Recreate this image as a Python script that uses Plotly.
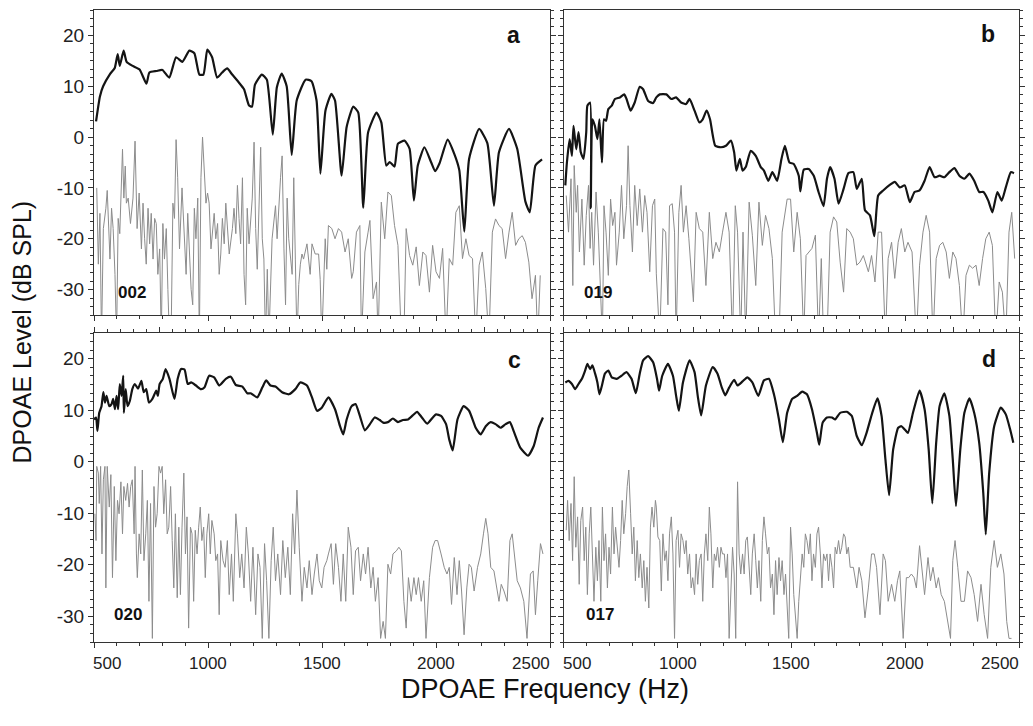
import plotly.graph_objects as go

# ---------------- data ----------------
freq_ticks = [500, 1000, 1500, 2000, 2500]
level_ticks = [-30, -20, -10, 0, 10, 20]
level_labels = ["-30", "-20", "-10", "0", "10", "20"]
panel_letters = ["a", "b", "c", "d"]
subject_ids = ["002", "019", "020", "017"]

# panel a (subject 002): DPOAE level and noise floor, (Hz, dB SPL)
a_dpoae = [(509,3.1),(526,8),(540,10),(570,12.4),(591,13.6),(604,16.3),(613,14),(630,17),(643,14.8),(670,14),
           (700,13.3),(730,10.5),(743,12.7),(774,13),(800,13.2),(830,11.7),(860,15.7),(888,14.8),(918,17),(940,16.5),
           (962,12.3),(980,12.3),(997,17.2),(1018,15.7),(1040,11.7),(1062,12.7),(1084,13.5),(1106,12.3),(1136,10.7),(1158,9.4),
           (1180,6.2),(1193,6),(1206,10.3),(1236,12.3),(1258,11.3),(1284,0.5),(1302,9.8),(1323,12.5),(1345,10),(1367,-3.5),
           (1389,7.2),(1428,11.3),(1454,11),(1476,7.2),(1493,-7.2),(1515,5.2),(1541,8.5),(1557,7.2),(1586,-7.6),(1608,2),
           (1637,6),(1659,4.8),(1681,-13.9),(1702,0.9),(1739,4.8),(1760,2.9),(1782,-5.6),(1797,-4.9),(1818,-5.8),(1833,-1.3),
           (1862,-0.7),(1884,-2.3),(1903,-12.5),(1920,-5.6),(1949,-2.0),(1978,-4.9),(1996,-6.7),(2015,-5.2),(2051,-0.5),(2080,-3.3),
           (2102,-6.5),(2124,-18.6),(2145,-4.3),(2189,1.6),(2225,-1.2),(2254,-13.5),(2276,-3),(2320,1.6),(2356,-2.3),(2392,-12.7),
           (2411,-14.8),(2436,-5.6),(2465,-4.4)]
a_noise = [(512,-10),(519,-25),(526,-15),(533,-40),(541,-18),(552,-14),(558,-10.5),(570,-24),(577,-14),(584,-18),
           (592,-27),(599,-40),(606,-16),(613,-19),(625,-2.4),(631,-12),(637,-5.7),(642,-13),(650,-12),(660,-17),
           (671,-12),(680,-0.8),(689,-18),(698,-11),(708,-22),(715,-13),(722,-20),(729,-25),(737,-14),(744,-21),
           (751,-15),(759,-24),(766,-16),(773,-17),(780,-27),(788,-22),(795,-40),(802,-17),(809,-24),(817,-18),
           (824,-30),(831,-40),(838,-40),(846,-13),(853,-16),(860,-0.5),(867,-8),(875,-22),(886,-10),(897,-19),
           (904,-27),(911,-15),(918,-21),(926,-30),(933,-33),(940,-14),(947,-20),(955,-12),(962,-40),(969,-8),
           (976,0),(984,-7),(991,-13),(998,-11),(1005,-13),(1013,-22),(1020,-18),(1027,-15),(1034,-20),(1042,-17),
           (1049,-27),(1056,-23),(1063,-16),(1071,-21),(1078,-13),(1093,-23),(1107,-18),(1114,-14),(1122,-19),(1129,-9.5),
           (1136,-16),(1143,-21),(1151,-8),(1158,-27),(1165,-33),(1172,-14),(1180,-21),(1194,-12),(1202,-1),(1209,-18),
           (1216,-26),(1223,-12),(1231,-2),(1238,-20),(1245,-24),(1252,-40),(1260,-26),(1267,-40),(1274,-28),(1281,-20),
           (1296,-13.5),(1303,-20),(1318,-8),(1325,-3.7),(1333,-22),(1340,-33),(1347,-12),(1354,-20),(1369,-27),(1376,-8),
           (1383,-24),(1390,-40),(1398,-29),(1405,-25),(1412,-23),(1419,-24),(1434,-21),(1448,-27),(1456,-21),(1470,-23),
           (1485,-23),(1492,-28),(1499,-40),(1506,-29),(1514,-20),(1521,-26),(1528,-17.4),(1543,-18),(1557,-20),(1572,-18),
           (1586,-18.7),(1601,-22.6),(1615,-20),(1630,-27.8),(1637,-26.5),(1651,-18.7),(1666,-17.4),(1673,-40),(1688,-22.6),(1702,-18.7),
           (1710,-16.4),(1724,-31.8),(1739,-28.5),(1746,-40),(1760,-12.8),(1775,-20),(1789,-10.8),(1804,-11.5),(1818,-17.4),(1833,-21.3),
           (1848,-40),(1859,-40),(1869,-18),(1884,-23.3),(1898,-25.2),(1913,-21.6),(1927,-29.2),(1942,-22.6),(1956,-23.3),(1971,-30.5),
           (1985,-21.3),(2000,-26.5),(2015,-27.8),(2029,-21.9),(2044,-40),(2058,-23.9),(2073,-25.2),(2087,-14.8),(2102,-13.5),(2116,-23.9),
           (2131,-20),(2145,-23.3),(2160,-23.9),(2174,-40),(2189,-25.2),(2203,-22.6),(2218,-29.8),(2232,-40),(2247,-18.7),(2261,-16.1),
           (2276,-17.4),(2290,-18),(2305,-23.9),(2320,-18.7),(2334,-14.8),(2349,-21.3),(2363,-20),(2378,-19.4),(2392,-20.7),(2407,-24.6),
           (2421,-31.8),(2436,-27.2),(2446,-40),(2457,-27.2)]

# panel b (subject 019)
b_dpoae = [(506,-9.5),(513,-5),(525,-0.4),(535,-3.7),(542,2.2),(554,-2.4),(564,1),(574,-3),(586,-4.3),(598,1),
           (603,6.2),(615,6.8),(618,-14),(625,3.5),(636,2.2),(647,-0.4),(656,3.5),(667,-5),(676,3.5),(685,3.2),
           (695,5.5),(710,6.2),(724,7.5),(746,7.8),(765,8.4),(775,7.5),(793,5.2),(811,6.8),(833,9.9),(848,9.4),
           (870,7.1),(892,6.7),(906,7.8),(921,8.4),(950,8.4),(972,7.5),(993,7.8),(1015,6.8),(1037,6.5),(1052,7.5),
           (1074,5.2),(1095,2.9),(1110,3.5),(1127,5.2),(1142,3.5),(1165,-1.7),(1190,-2.0),(1212,-1.7),(1234,-0.7),(1248,-3),
           (1258,-6.6),(1273,-4.3),(1285,-6.6),(1299,-5.9),(1321,-2.7),(1343,-3.7),(1365,-5.9),(1379,-6.6),(1398,-8.6),(1416,-6.9),
           (1437,-8.6),(1456,-4.3),(1471,-1.7),(1491,-5),(1510,-5.3),(1532,-7.6),(1539,-10.7),(1554,-6.4),(1576,-6.3),(1598,-7.6),
           (1619,-10.8),(1641,-13.6),(1656,-8.2),(1670,-5.9),(1689,-8.2),(1707,-13.1),(1729,-10.2),(1750,-7.1),(1772,-6.9),(1787,-10.2),
           (1809,-8.2),(1823,-14.4),(1845,-15.4),(1864,-19.5),(1881,-11.5),(1903,-10.5),(1932,-9.4),(1954,-8.8),(1976,-9.9),(1998,-9.5),
           (2020,-12.8),(2041,-10.8),(2063,-10.5),(2085,-8.6),(2107,-5.9),(2129,-7.9),(2151,-7.6),(2172,-7.9),(2194,-6.9),(2216,-6.1),
           (2238,-7.6),(2260,-8.2),(2282,-7.2),(2303,-8.6),(2325,-10.8),(2344,-10.8),(2365,-12.5),(2383,-14.8),(2405,-10.8),(2424,-12.5),
           (2442,-9.9),(2464,-6.9),(2478,-7.1)]
b_noise = [(510,-11.5),(520,-18.7),(531,-8.2),(539,-29.2),(545,-5.6),(554,-14.8),(560,-9.5),(568,-22.6),(579,-12.2),(589,-25.2),
           (598,-15.4),(608,-9.5),(615,-21.9),(622,-14.8),(630,-25.2),(641,-10.8),(651,-18.7),(659,-27.8),(669,-40),(676,-13.5),
           (685,-18.7),(695,-27.2),(705,-12.2),(714,-17.4),(724,-14.8),(731,-25.2),(743,-18.7),(753,-9.5),(763,-20),(775,-13.5),
           (782,-1.7),(790,-13.5),(801,-22.6),(811,-9.5),(822,-17.4),(833,-10.2),(845,-18.7),(855,-11.5),(865,-14.8),(877,-26.5),
           (889,-13.5),(899,-12.2),(906,-26.9),(921,-40),(935,-18),(947,-18.7),(957,-33),(964,-13.5),(976,-13.1),(986,-18.7),
           (993,-40),(1005,-14.8),(1015,-9.5),(1025,-18.7),(1037,-13.5),(1049,-20),(1059,-26.5),(1069,-32.4),(1081,-14.8),(1095,-18),
           (1110,-18.7),(1124,-29.2),(1139,-14.8),(1154,-23.9),(1168,-20.7),(1183,-22.6),(1197,-18.7),(1212,-14.8),(1226,-18.7),(1241,-40),
           (1253,-13.5),(1263,-18.7),(1277,-40),(1287,-18.7),(1299,-40),(1314,-12.8),(1328,-19.3),(1343,-29.2),(1357,-12.8),(1372,-21.3),
           (1386,-15.4),(1401,-18),(1416,-23.9),(1430,-40),(1445,-40),(1459,-18.7),(1481,-12.2),(1496,-12.2),(1510,-22.6),(1525,-14.8),
           (1539,-20),(1554,-40),(1564,-23.3),(1576,-22.6),(1590,-21.9),(1605,-19.3),(1619,-40),(1631,-23.9),(1641,-40),(1656,-40),
           (1670,-18.7),(1685,-15.7),(1699,-16.7),(1714,-24.6),(1729,-30.5),(1743,-18),(1758,-18.7),(1772,-20),(1787,-25.2),(1801,-24.6),
           (1816,-23.3),(1838,-26.5),(1852,-23.3),(1867,-28.5),(1881,-18.7),(1896,-18.7),(1913,-40),(1925,-23.9),(1940,-20.7),(1954,-27.8),
           (1969,-20.7),(1983,-18),(1998,-22.6),(2012,-20.7),(2030,-22.6),(2049,-40),(2063,-25.2),(2078,-18.7),(2092,-15.4),(2107,-18.7),
           (2122,-40),(2136,-23.9),(2151,-21.3),(2165,-20.7),(2180,-22.6),(2194,-27.8),(2209,-22.6),(2223,-23.9),(2238,-29.2),(2253,-40),
           (2267,-27.2),(2282,-25.2),(2296,-25.8),(2311,-25.2),(2325,-29.2),(2340,-23.9),(2354,-20),(2369,-18.7),(2383,-21.3),(2398,-40),
           (2413,-28.5),(2427,-30.5),(2442,-40),(2456,-18.7),(2468,-14.8),(2481,-23.9)]

# panel c (subject 020)
c_dpoae = [(500,8.2),(509,8.6),(515,6.0),(523,9.5),(533,10.8),(541,13.5),(548,11.5),(555,12.8),(567,10.8),(577,11.2),
           (584,12.2),(592,10.2),(599,12.8),(606,10.2),(613,15.1),(621,12.8),(628,16.7),(631,9.5),(639,14.1),(647,10.8),
           (657,11.8),(668,14.1),(679,15.1),(693,14.2),(708,15.7),(718,13.5),(729,14.1),(741,11.5),(756,12.2),(773,13.8),
           (780,12.8),(788,15.1),(802,16.1),(814,18.0),(831,16.1),(853,12.2),(867,16.1),(882,18.0),(897,17.9),(911,15.1),
           (926,15.4),(947,14.8),(969,14.1),(984,14.4),(1005,16.7),(1027,16.4),(1049,14.8),(1078,16.1),(1100,16.5),(1122,14.9),
           (1151,14.6),(1172,13.3),(1187,13.3),(1216,12.5),(1238,14.4),(1255,15.8),(1274,14.8),(1296,14.6),(1325,13.5),(1354,13.1),
           (1383,14.1),(1405,15.4),(1434,14.8),(1456,12.5),(1478,9.9),(1499,10.5),(1528,12.5),(1557,10.2),(1579,6.9),(1593,5.3),
           (1608,8.2),(1630,10.8),(1647,11.2),(1666,8.9),(1688,6.1),(1710,7.3),(1731,8.6),(1753,8.1),(1768,7.6),(1789,7.7),
           (1811,8.4),(1833,7.7),(1855,8.1),(1877,8.2),(1898,9.0),(1917,9.7),(1938,8.6),(1961,7.4),(1986,8.6),(2000,9.2),
           (2022,8.9),(2044,7.3),(2058,4.3),(2073,2.2),(2094,8.2),(2121,10.8),(2145,9.9),(2174,6.6),(2196,5.3),(2218,6.9),
           (2240,7.7),(2261,7.3),(2283,6.6),(2305,7.3),(2324,7.7),(2341,5.9),(2370,2.7),(2404,1.2),(2428,3.0),(2450,6.6),
           (2469,8.6)]
c_noise = [(504,-10.1),(509,-15.3),(512,-0.9),(519,-2.2),(523,-8.1),(529,-0.9),(535,-17.9),(541,-3.5),(548,-0.9),(552,-24.5),
           (558,-0.9),(567,-8.8),(574,-2.5),(581,-22.5),(589,-4.8),(596,-19.2),(603,-7.5),(610,-10.1),(618,-3.9),(625,-14),
           (631,-4.8),(639,-7.5),(647,-4.2),(654,-8.8),(661,-4.8),(668,-3.5),(676,-14),(680,-0.9),(686,-17.9),(690,-22.5),
           (698,-14),(705,-17.9),(712,-1.6),(719,-19.2),(727,-14),(734,-7.5),(741,-27.1),(748,-8.1),(756,-34.3),(763,-4.8),
           (770,-12.7),(777,-10.1),(785,-0.9),(792,-2.2),(799,-0.9),(806,-10.1),(814,-3.5),(821,-14),(828,-12.7),(836,-4.8),
           (843,-15.3),(850,-24.5),(857,-10.1),(865,-26.4),(872,-12.7),(879,-25.8),(886,-12.7),(894,-2.2),(901,-17.9),(908,-10.7),
           (915,-32.3),(923,-12.7),(930,-14),(937,-27.1),(944,-13.3),(952,-17.9),(959,-12.7),(966,-8.8),(973,-15.3),(981,-12.7),
           (988,-22.5),(995,-14),(1003,-10.1),(1010,-17.9),(1017,-11.4),(1027,-14),(1034,-19.2),(1042,-17.9),(1049,-29.7),(1056,-15.3),
           (1066,-19.2),(1075,-20.5),(1085,-15.3),(1093,-25.8),(1103,-17.9),(1111,-27.1),(1122,-10.1),(1129,-14),(1139,-22.5),(1148,-17.9),
           (1158,-24.5),(1168,-12.7),(1177,-17.9),(1187,-27.1),(1197,-16.6),(1209,-29.7),(1219,-17.9),(1228,-20.5),(1238,-34.3),(1248,-15.9),
           (1257,-23.1),(1267,-34.3),(1277,-19.2),(1286,-12.7),(1296,-23.1),(1306,-17.9),(1318,-25.8),(1328,-15.3),(1339,-22.5),(1350,-16.6),
           (1361,-25.8),(1371,-10.1),(1380,-17.9),(1390,-5.5),(1400,-16.6),(1412,-27.1),(1422,-20.5),(1434,-24.5),(1444,-19.2),(1456,-25.8),
           (1466,-21.8),(1478,-17.9),(1488,-23.1),(1499,-24.5),(1509,-20.5),(1521,-19.2),(1528,-17.9),(1540,-15.9),(1550,-23.8),(1560,-15.9),
           (1572,-20.5),(1583,-27.1),(1593,-17.9),(1604,-27.1),(1615,-12.7),(1627,-16.6),(1637,-25.8),(1647,-17.3),(1659,-16.6),(1669,-23.1),
           (1681,-17.9),(1691,-21.8),(1702,-16.6),(1714,-24.5),(1724,-20.5),(1734,-27.1),(1746,-22.5),(1757,-34.3),(1768,-31),(1778,-34.3),
           (1789,-19.9),(1801,-21.8),(1811,-17.9),(1826,-17.3),(1837,-16.6),(1848,-17.3),(1859,-27.1),(1869,-32.3),(1879,-22.5),(1891,-27.1),
           (1903,-22.5),(1913,-25.8),(1923,-22.5),(1935,-27.1),(1946,-23.1),(1956,-34.3),(1971,-22.5),(1985,-16.6),(1996,-15.3),(2007,-15.3),
           (2022,-17.9),(2036,-20.5),(2048,-21.8),(2058,-20.5),(2068,-27.7),(2080,-18.6),(2092,-25.8),(2102,-19.2),(2112,-25.1),(2123,-33.6),
           (2135,-24.5),(2145,-19.9),(2155,-20.5),(2167,-25.1),(2182,-20.5),(2196,-17.9),(2208,-14),(2218,-11),(2228,-14),(2240,-20.5),
           (2254,-21.2),(2266,-24.5),(2276,-27.1),(2286,-23.8),(2298,-25.1),(2312,-27.1),(2324,-15.3),(2334,-14),(2344,-17.9),(2356,-23.1),
           (2370,-24.5),(2385,-27.1),(2399,-34.3),(2414,-21.8),(2426,-21.2),(2436,-29.7),(2446,-23.1),(2458,-15.9),(2469,-17.9)]

# panel d (subject 017)
d_dpoae = [(506,15.4),(520,15.7),(535,15.1),(549,14.1),(564,15.1),(579,16.1),(593,17.7),(603,19.0),(615,18.0),(625,18.7),
           (637,17.1),(647,15.4),(656,13.1),(667,14.8),(680,17.1),(695,17.7),(710,16.4),(732,16.1),(753,16.7),(775,17.4),
           (797,16.1),(816,13.3),(833,17.1),(848,19.7),(870,20.5),(892,19.3),(909,16.1),(918,13.8),(932,16.7),(957,19.0),
           (979,16.7),(993,12.8),(1005,9.9),(1023,15.4),(1052,19.7),(1074,17.4),(1088,12.8),(1103,9.0),(1124,14.8),(1154,18.4),
           (1175,17.1),(1194,14.4),(1209,12.9),(1226,14.4),(1248,15.9),(1263,14.8),(1285,15.6),(1306,16.4),(1328,15.4),(1354,12.8),
           (1379,15.8),(1401,16.1),(1423,13.1),(1445,8.2),(1462,3.8),(1481,9.5),(1503,12.2),(1525,12.8),(1547,13.6),(1568,13.1),
           (1590,10.2),(1612,5.6),(1622,3.3),(1637,7.6),(1656,8.6),(1678,8.6),(1692,8.2),(1714,9.5),(1743,9.7),(1765,8.9),
           (1787,5.0),(1809,3.2),(1830,5.6),(1855,9.5),(1878,12.3),(1896,8.9),(1913,0.4),(1929,-6.5),(1947,2.4),(1969,6.6),
           (1983,6.9),(2001,6.1),(2012,5.6),(2034,9.5),(2063,13.8),(2085,10.2),(2103,2.4),(2119,-8.1),(2136,3.7),(2151,10.8),
           (2172,13.3),(2194,8.9),(2209,0.4),(2223,-8.6),(2242,2.4),(2260,9.5),(2282,12.3),(2303,9.5),(2325,3.7),(2343,-6.1),
           (2354,-14.1),(2369,-2.2),(2391,6.9),(2420,10.5),(2442,9.2),(2461,6.3),(2475,3.7)]
d_noise = [(510,-13.3),(516,-7.5),(523,-15.3),(531,-8.1),(538,-19.2),(545,-2.9),(552,-16.6),(560,-10.7),(567,-23.8),(574,-11.4),
           (582,-8.8),(589,-19.2),(596,-12.7),(603,-25.8),(611,-14),(618,-8.8),(625,-17.9),(632,-27.1),(640,-16.6),(647,-23.1),
           (654,-15.3),(662,-27.1),(669,-8.8),(676,-19.2),(683,-14),(691,-24.5),(698,-16.6),(705,-21.8),(713,-8.8),(720,-17.9),
           (727,-12.7),(734,-16.6),(742,-20.5),(749,-15.3),(756,-7.5),(763,-14),(771,-10.1),(778,-4.8),(785,-1.6),(793,-10.1),
           (800,-17.9),(807,-12.7),(814,-23.1),(822,-15.3),(829,-22.5),(836,-17.9),(844,-24.5),(851,-19.2),(858,-27.1),(865,-20.5),
           (873,-28.4),(880,-12.7),(887,-8.8),(895,-12.7),(902,-7.5),(906,-8.8),(913,-14.6),(921,-15.3),(928,-25.1),(935,-14),
           (943,-19.2),(950,-17.3),(957,-23.1),(964,-14),(972,-10.7),(979,-17.9),(986,-34.3),(993,-15.3),(1001,-13.3),(1008,-20.5),
           (1015,-14),(1023,-15.3),(1030,-17.9),(1037,-15.3),(1044,-21.8),(1052,-17.9),(1059,-24.5),(1066,-22.5),(1074,-25.8),(1081,-17.9),
           (1088,-23.8),(1095,-19.2),(1103,-17.9),(1110,-27.1),(1117,-17.9),(1124,-14),(1132,-19.2),(1139,-8.8),(1146,-14),(1154,-24.5),
           (1161,-17.9),(1168,-19.2),(1175,-16.6),(1183,-20.5),(1190,-16.6),(1197,-17.9),(1205,-17.9),(1212,-22.5),(1219,-17.9),(1226,-34.3),
           (1234,-25.8),(1241,-16.6),(1248,-21.8),(1255,-34.3),(1263,-3.9),(1270,-17.9),(1277,-21.8),(1285,-17.9),(1292,-21.8),(1299,-15.3),
           (1306,-14.6),(1314,-20.5),(1321,-25.8),(1328,-17.9),(1336,-14),(1343,-19.2),(1350,-24.5),(1357,-19.2),(1365,-27.1),(1372,-15.3),
           (1379,-10.7),(1386,-14),(1394,-17.9),(1401,-16.6),(1408,-24.5),(1416,-21.8),(1423,-29.7),(1430,-19.2),(1437,-25.8),(1445,-18.6),
           (1452,-23.1),(1459,-19.2),(1467,-25.8),(1474,-21.8),(1481,-27.1),(1488,-34.3),(1496,-12.7),(1503,-17.9),(1510,-25.8),(1518,-31),
           (1525,-34.3),(1532,-27.1),(1539,-23.1),(1547,-17.9),(1554,-20.5),(1561,-14),(1568,-15.3),(1576,-17.9),(1583,-14),(1590,-23.1),
           (1597,-17.9),(1605,-20.5),(1612,-14),(1619,-12.7),(1627,-17.9),(1634,-24.5),(1641,-17.9),(1649,-19.2),(1656,-17.9),(1663,-23.1),
           (1670,-17.9),(1678,-20.5),(1685,-24.5),(1692,-16.6),(1699,-17.9),(1707,-15.3),(1714,-17.9),(1721,-16.6),(1729,-14),(1736,-14.6),
           (1743,-17.9),(1750,-16.6),(1758,-20.5),(1772,-20.5),(1787,-24.5),(1797,-20.5),(1809,-23.1),(1823,-30.3),(1838,-24.5),(1852,-17.9),
           (1864,-17.9),(1874,-20.5),(1889,-29.7),(1903,-17.9),(1913,-19.2),(1925,-27.1),(1940,-23.8),(1954,-27.1),(1966,-23.1),(1976,-21.2),
           (1991,-34.3),(2005,-22.5),(2015,-22.5),(2027,-21.8),(2039,-22.5),(2049,-24.5),(2063,-16.3),(2074,-20.5),(2085,-25.8),(2100,-18.6),
           (2111,-23.1),(2122,-20.5),(2136,-24.5),(2146,-22.5),(2158,-25.8),(2172,-27.1),(2187,-31),(2199,-34.3),(2209,-19.2),(2219,-15.3),
           (2231,-20.5),(2245,-27.1),(2260,-27.1),(2274,-21.2),(2289,-22.5),(2303,-25.8),(2318,-31),(2333,-23.8),(2347,-29.7),(2362,-34.3),
           (2376,-20.5),(2391,-15.3),(2405,-20.5),(2420,-17.9),(2434,-21.8),(2446,-31),(2456,-34.3),(2467,-34.3)]

# ---------------- figure ----------------
FONT = "Liberation Sans, Arial, Helvetica, sans-serif"
AX = "#333333"
BLACK = "#141414"
GRAY = "#8c8c8c"

# the page body has an 8 px margin, so the figure is drawn at (8, 8)
OFF = 8
W, H = 1033 - 2 * OFF, 726 - 2 * OFF
PLOT_L, PLOT_R, PLOT_T, PLOT_B = 94, 1025, 10, 642   # page pixels of the plotting area
ML, MR = PLOT_L - OFF, W - (PLOT_R - OFF)
MT, MB = PLOT_T - OFF, H - (PLOT_B - OFF)
PW, PH = PLOT_R - PLOT_L, PLOT_B - PLOT_T


def px(x):
    return (x - PLOT_L) / PW


def py(y):
    return (PLOT_B - y) / PH


panels = [
    ("x", "y", a_dpoae, a_noise),
    ("x2", "y2", b_dpoae, b_noise),
    ("x3", "y3", c_dpoae, c_noise),
    ("x4", "y4", d_dpoae, d_noise),
]

fig = go.Figure()
for xa, ya, dp, nf in panels:
    nf_f, nf_l = zip(*nf)
    dp_f, dp_l = zip(*dp)
    fig.add_trace(go.Scatter(x=nf_f, y=nf_l, mode="lines", xaxis=xa, yaxis=ya,
                             line=dict(color=GRAY, width=1), showlegend=False, hoverinfo="skip"))
    fig.add_trace(go.Scatter(x=dp_f, y=dp_l, mode="lines", xaxis=xa, yaxis=ya,
                             line=dict(color=BLACK, width=2.2, shape="spline", smoothing=0.5),
                             showlegend=False, hoverinfo="skip"))

# dummy traces so the top tick axes of the lower panels are drawn
fig.add_trace(go.Scatter(x=[], y=[], xaxis="x5", yaxis="y3", showlegend=False, hoverinfo="skip"))
fig.add_trace(go.Scatter(x=[], y=[], xaxis="x6", yaxis="y4", showlegend=False, hoverinfo="skip"))

xl = [0, px(553)]
xr = [px(567), 1.0]
yt = [py(315), 1.0]
yb = [0.0, py(333)]


def xaxis(domain, anchor):
    return dict(domain=domain, anchor=anchor, range=[500, 2500], tickvals=freq_ticks,
                showticklabels=False, ticks="outside", ticklen=5, tickwidth=1, tickcolor=AX,
                showline=True, linecolor=AX, linewidth=1.2, mirror=True,
                showgrid=False, zeroline=False,
                minor=dict(ticks="outside", ticklen=3, dtick=100, tick0=500, tickcolor=AX, showgrid=False))


def yaxis(domain, anchor, labels):
    return dict(domain=domain, anchor=anchor, range=[-35, 25], tickvals=level_ticks, ticktext=level_labels,
                showticklabels=labels, ticks="outside", ticklen=5, tickwidth=1, tickcolor=AX,
                showline=True, linecolor=AX, linewidth=1.2, mirror="ticks",
                showgrid=False, zeroline=False,
                tickfont=dict(family=FONT, size=19, color="#222222"),
                minor=dict(ticks="outside", ticklen=3, dtick=10 / 6, tick0=0, tickcolor=AX, showgrid=False))


def topaxis(over, anchor):
    return dict(overlaying=over, anchor=anchor, side="top", range=[0, 7], dtick=1, tick0=0,
                showticklabels=False, ticks="outside", ticklen=5, tickwidth=1, tickcolor=AX,
                showline=False, showgrid=False, zeroline=False,
                minor=dict(ticks="outside", ticklen=3, dtick=0.2, tick0=0, tickcolor=AX, showgrid=False))


annotations = []
# panel letters and subject ids
letter_pos = [(516, 35), (994, 34), (517, 360), (995, 359)]
id_pos = [(132, 292), (601, 292), (128, 614), (603, 614)]
for (lx, ly), t in zip(letter_pos, panel_letters):
    annotations.append(dict(x=px(lx), y=py(ly), xref="paper", yref="paper", text=f"<b>{t}</b>",
                            showarrow=False, xanchor="center", yanchor="middle",
                            font=dict(family=FONT, size=23, color="#111111")))
for (lx, ly), t in zip(id_pos, subject_ids):
    annotations.append(dict(x=px(lx), y=py(ly), xref="paper", yref="paper", text=f"<b>{t}</b>",
                            showarrow=False, xanchor="center", yanchor="middle",
                            font=dict(family=FONT, size=17, color="#111111")))

# x tick labels of the lower panels (end labels pulled inward as in the original)
label_shift = {500: 58, 2500: -82}
for xa in ["x3", "x4"]:
    for f in freq_ticks:
        annotations.append(dict(x=f + label_shift.get(f, 0), y=py(663), xref=xa, yref="paper",
                                text=str(f), showarrow=False, xanchor="center", yanchor="middle",
                                font=dict(family=FONT, size=17, color="#222222")))

# axis titles
annotations.append(dict(x=px(22), y=py(332), xref="paper", yref="paper", text="DPOAE Level (dB SPL)",
                        textangle=-90, showarrow=False, xanchor="center", yanchor="middle",
                        font=dict(family=FONT, size=25, color="#111111")))
annotations.append(dict(x=px(548), y=py(689), xref="paper", yref="paper", text="DPOAE Frequency (Hz)",
                        showarrow=False, xanchor="center", yanchor="middle",
                        font=dict(family=FONT, size=27, color="#111111")))

fig.update_layout(
    width=W, height=H,
    margin=dict(l=ML, r=MR, t=MT, b=MB),
    paper_bgcolor="white", plot_bgcolor="white",
    font=dict(family=FONT),
    showlegend=False,
    xaxis=xaxis(xl, "y"), yaxis=yaxis(yt, "x", True),
    xaxis2=xaxis(xr, "y2"), yaxis2=yaxis(yt, "x2", False),
    xaxis3=xaxis(xl, "y3"), yaxis3=yaxis(yb, "x3", True),
    xaxis4=xaxis(xr, "y4"), yaxis4=yaxis(yb, "x4", False),
    xaxis5=topaxis("x3", "y3"), xaxis6=topaxis("x4", "y4"),
    annotations=annotations,
)

fig.write_html("out.html")
